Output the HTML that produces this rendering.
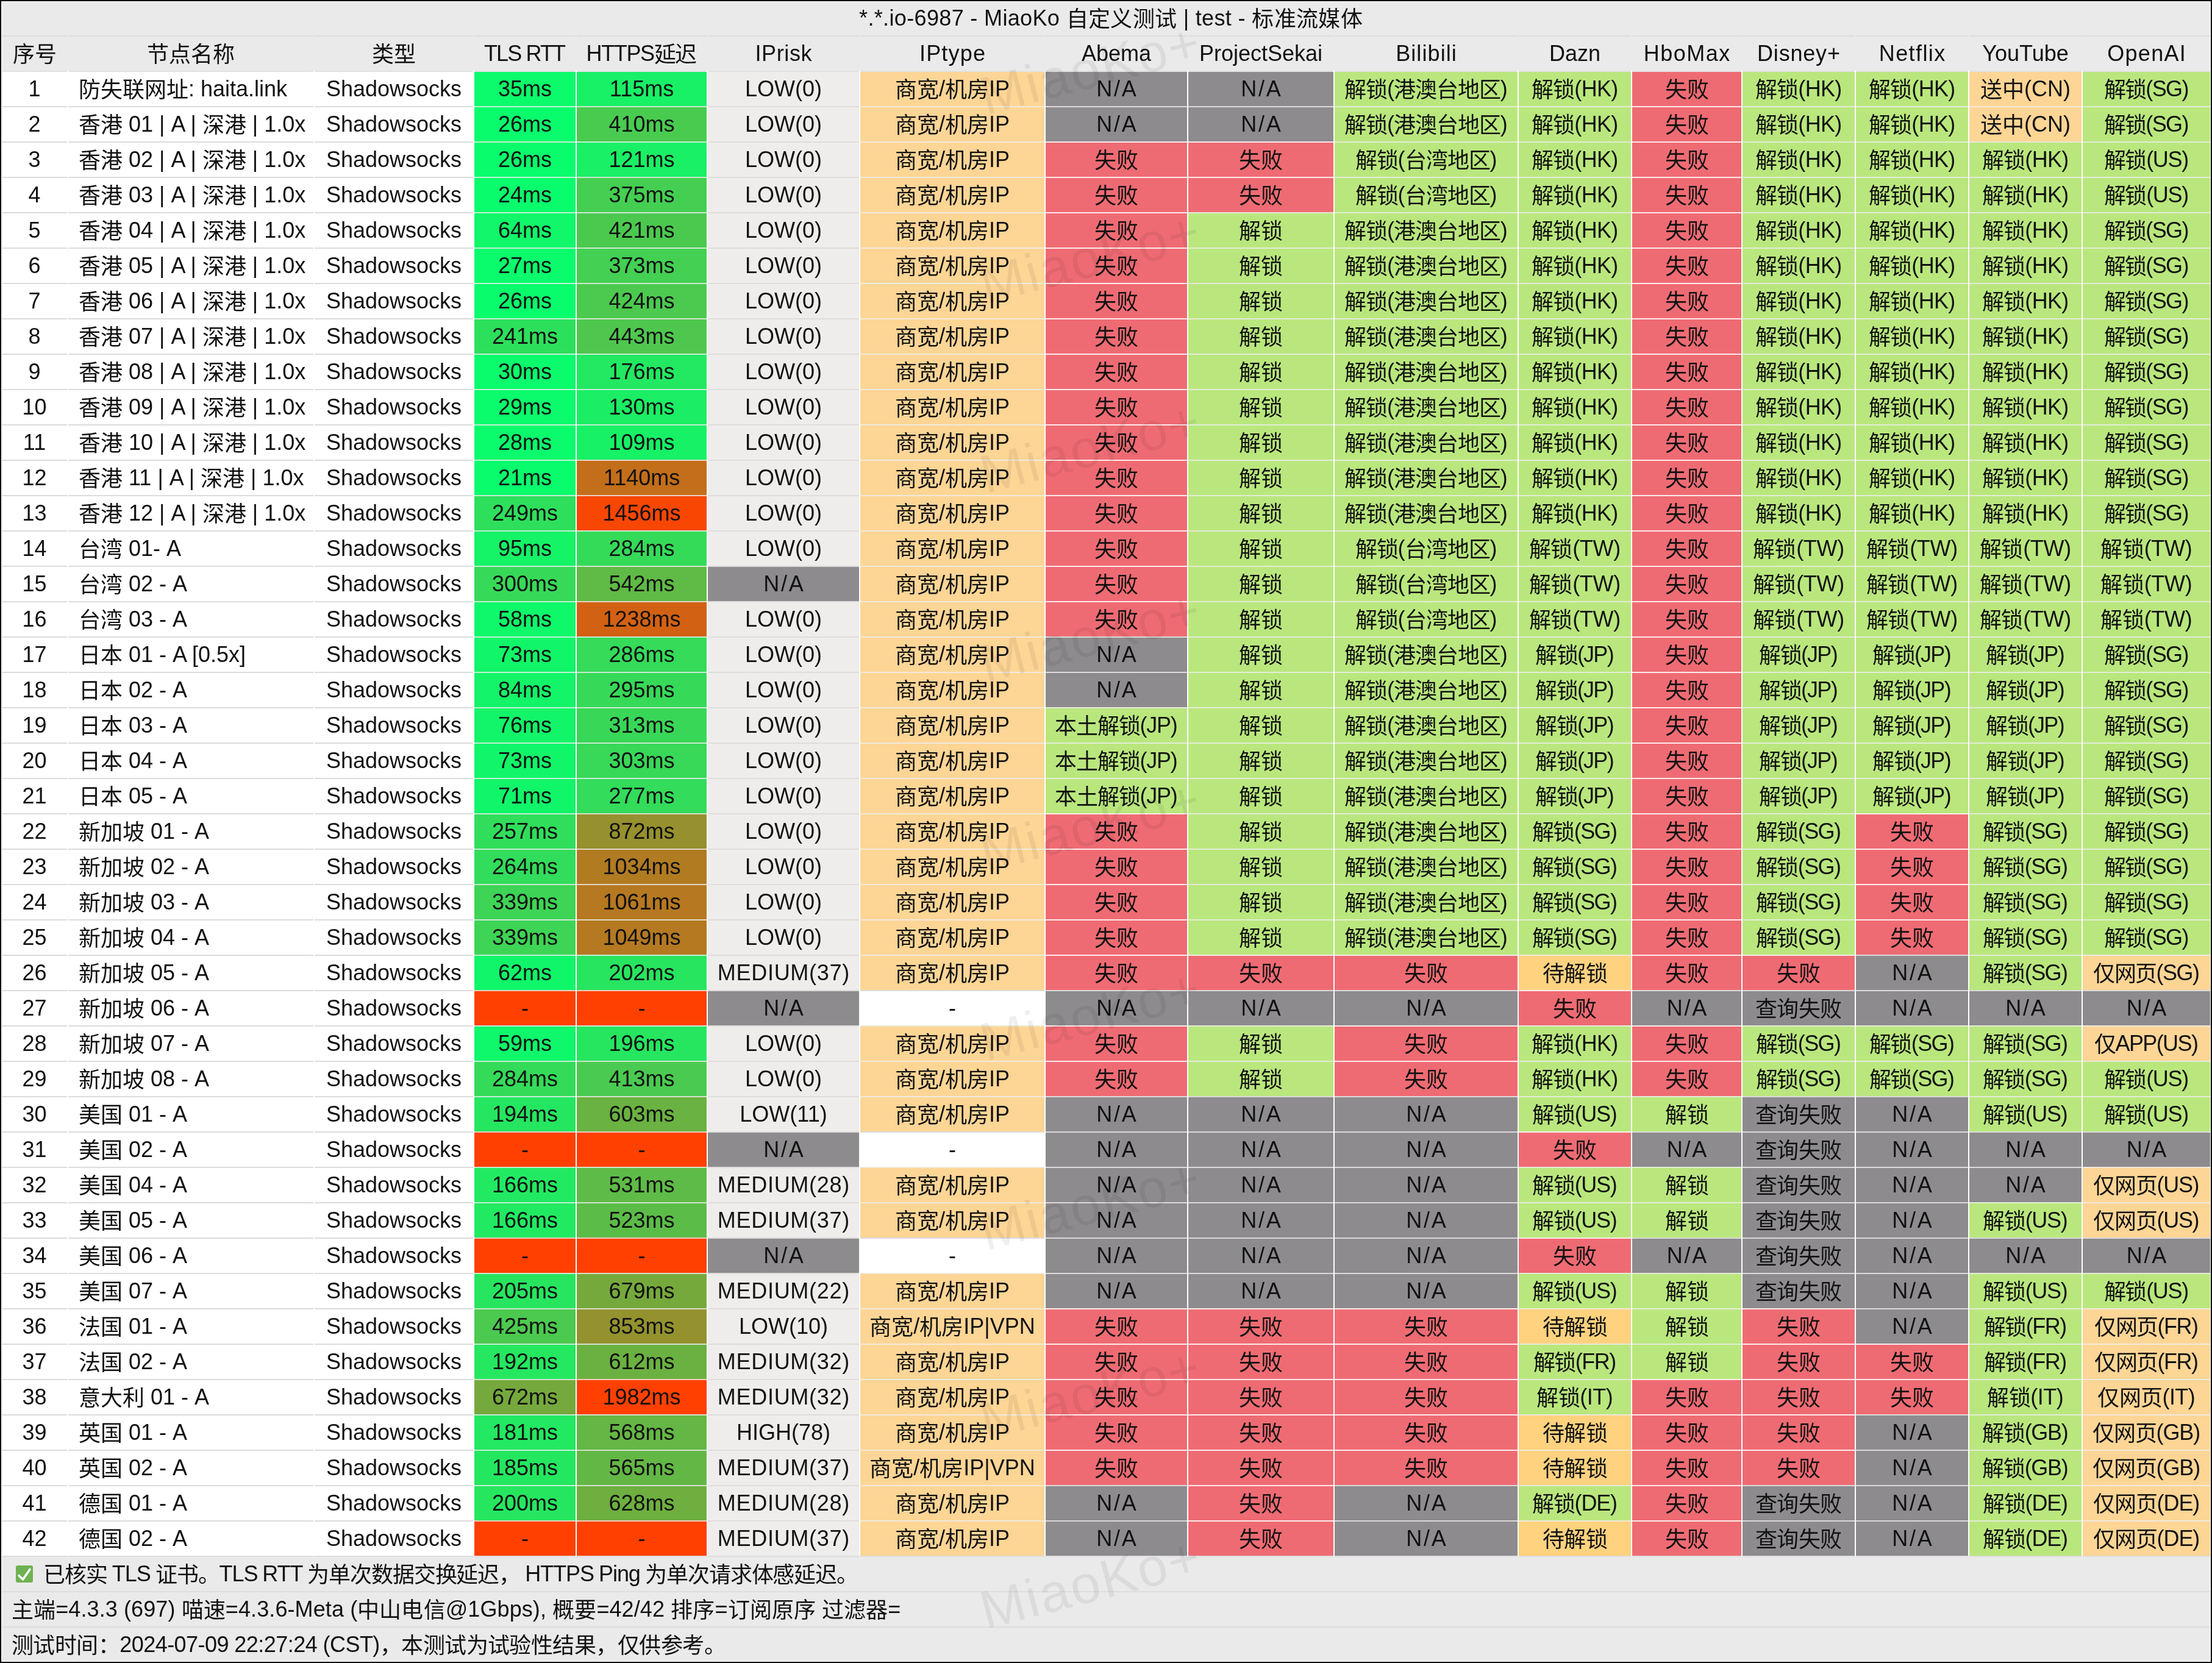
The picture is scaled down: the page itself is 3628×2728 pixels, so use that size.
<!DOCTYPE html>
<html lang="zh-CN"><head><meta charset="utf-8"><title>MiaoKo</title>
<style>
html,body{margin:0;padding:0;background:#eaeaea;}
body{width:3628px;height:2728px;overflow:hidden;position:relative;font-family:"Liberation Sans",sans-serif;font-size:36px;color:#111;}
.r{position:absolute;left:0;width:3628px;height:58px;background:#eaeaea;}
.d{background:#fff;}
.c{position:absolute;top:0;height:58px;box-sizing:border-box;border-top:2px solid #dedede;line-height:56px;text-align:center;white-space:nowrap;overflow:hidden;}
.d .c{border-top-color:#dcdcdc;background:#fff;}
.d .n{text-align:left;padding-left:17px;}
i{font-style:normal;position:relative;top:2px;}
.d .k{border-top-color:rgba(238,238,238,.8);}
.d .rk{background:#eeedec;border-top-color:#dedddc;}
.d .ok{background:#b9e77d;}
.d .no{background:#ef6b73;border-top-color:rgba(255,255,255,.86);}
.d .na{background:#8d8b8e;}
.d .wt{background:#ffd27f;}
.d .or{background:#fdd595;}
.d0 .c{border-top-color:#e2e2e2;}
.t{border-top-color:transparent;left:0;width:3628px;letter-spacing:.35px;padding-left:16px;}
.f{left:0;width:3628px;text-align:left;padding-left:19px;border-top:none;padding-top:2px;}
.wm{position:absolute;left:1622px;width:400px;height:100px;line-height:100px;font-size:88px;letter-spacing:3px;color:rgba(0,0,0,.062);transform:rotate(-14.5deg);transform-origin:0 100%;white-space:nowrap;pointer-events:none;}
#bd{position:absolute;left:0;top:0;width:3628px;height:2728px;box-sizing:border-box;border:2px solid #000;box-shadow:inset 0 0 0 1px #fff;pointer-events:none;}
#cb{position:absolute;left:26px;top:16px;width:28px;height:28px;}
.sg,.ln{position:absolute;top:0;height:2px;background:#dedede;}
.ln{left:3px;width:3622px;}
#w{position:absolute;left:0;top:0;width:3628px;height:2728px;will-change:transform;}
</style></head><body><div id="w">
<div class="r" style="top:0"><div class="c t">*.*.io-6987 - MiaoKo <i>自定义测试</i> | test - <i>标准流媒体</i></div></div>
<div class="r" style="top:58px"><div class="c h" style="left:3px;width:107px;"><i>序号</i></div><div class="c h" style="left:112px;width:402px;"><i>节点名称</i></div><div class="c h" style="left:516px;width:260px;"><i>类型</i></div><div class="c h" style="left:778px;width:166px;letter-spacing:-1.9px;text-indent:-1.9px;">TLS RTT</div><div class="c h" style="left:946px;width:213px;letter-spacing:-1.35px;text-indent:-1.35px;">HTTPS<i>延迟</i></div><div class="c h" style="left:1161px;width:248px;letter-spacing:0.6px;text-indent:0.6px;">IPrisk</div><div class="c h" style="left:1411px;width:302px;letter-spacing:1.2px;text-indent:1.2px;">IPtype</div><div class="c h" style="left:1715px;width:232px;">Abema</div><div class="c h" style="left:1949px;width:238px;">ProjectSekai</div><div class="c h" style="left:2189px;width:300px;letter-spacing:1.1px;text-indent:1.1px;">Bilibili</div><div class="c h" style="left:2491px;width:184px;">Dazn</div><div class="c h" style="left:2677px;width:179px;letter-spacing:1.5px;text-indent:1.5px;">HboMax</div><div class="c h" style="left:2858px;width:184px;letter-spacing:0.8px;text-indent:0.8px;">Disney+</div><div class="c h" style="left:3044px;width:184px;letter-spacing:1.4px;text-indent:1.4px;">Netflix</div><div class="c h" style="left:3230px;width:184px;">YouTube</div><div class="c h" style="left:3416px;width:209px;letter-spacing:1.3px;text-indent:1.3px;">OpenAI</div></div>
<div class="r d d0" style="top:116px"><div class="c " style="left:3px;width:107px;">1</div><div class="c n" style="left:112px;width:402px;"><i>防失联网址</i>: haita.link</div><div class="c " style="left:516px;width:260px;">Shadowsocks</div><div class="c k" style="left:778px;width:166px;background:rgb(11,251,107);">35ms</div><div class="c k" style="left:946px;width:213px;background:rgb(24,240,102);">115ms</div><div class="c rk" style="left:1161px;width:248px;">LOW(0)</div><div class="c k or" style="left:1411px;width:302px;"><i>商宽</i>/<i>机房</i>IP</div><div class="c k na" style="left:1715px;width:232px;letter-spacing:2.8px;text-indent:2.8px;">N/A</div><div class="c k na" style="left:1949px;width:238px;letter-spacing:2.8px;text-indent:2.8px;">N/A</div><div class="c k ok" style="left:2189px;width:300px;letter-spacing:-1.05px;text-indent:-1.05px;"><i>解锁</i>(<i>港澳台地区</i>)</div><div class="c k ok" style="left:2491px;width:184px;letter-spacing:-0.7px;text-indent:-0.7px;"><i>解锁</i>(HK)</div><div class="c k no" style="left:2677px;width:179px;"><i>失败</i></div><div class="c k ok" style="left:2858px;width:184px;letter-spacing:-0.7px;text-indent:-0.7px;"><i>解锁</i>(HK)</div><div class="c k ok" style="left:3044px;width:184px;letter-spacing:-0.7px;text-indent:-0.7px;"><i>解锁</i>(HK)</div><div class="c k or" style="left:3230px;width:184px;"><i>送中</i>(CN)</div><div class="c k ok" style="left:3416px;width:209px;letter-spacing:-1.6px;text-indent:-1.6px;"><i>解锁</i>(SG)</div></div>
<div class="r d" style="top:174px"><div class="c " style="left:3px;width:107px;">2</div><div class="c n" style="left:112px;width:402px;"><i>香港</i> 01 | A | <i>深港</i> | 1.0x</div><div class="c " style="left:516px;width:260px;">Shadowsocks</div><div class="c k" style="left:778px;width:166px;background:rgb(9,252,108);">26ms</div><div class="c k" style="left:946px;width:213px;background:rgb(73,203,80);">410ms</div><div class="c rk" style="left:1161px;width:248px;">LOW(0)</div><div class="c k or" style="left:1411px;width:302px;"><i>商宽</i>/<i>机房</i>IP</div><div class="c k na" style="left:1715px;width:232px;letter-spacing:2.8px;text-indent:2.8px;">N/A</div><div class="c k na" style="left:1949px;width:238px;letter-spacing:2.8px;text-indent:2.8px;">N/A</div><div class="c k ok" style="left:2189px;width:300px;letter-spacing:-1.05px;text-indent:-1.05px;"><i>解锁</i>(<i>港澳台地区</i>)</div><div class="c k ok" style="left:2491px;width:184px;letter-spacing:-0.7px;text-indent:-0.7px;"><i>解锁</i>(HK)</div><div class="c k no" style="left:2677px;width:179px;"><i>失败</i></div><div class="c k ok" style="left:2858px;width:184px;letter-spacing:-0.7px;text-indent:-0.7px;"><i>解锁</i>(HK)</div><div class="c k ok" style="left:3044px;width:184px;letter-spacing:-0.7px;text-indent:-0.7px;"><i>解锁</i>(HK)</div><div class="c k or" style="left:3230px;width:184px;"><i>送中</i>(CN)</div><div class="c k ok" style="left:3416px;width:209px;letter-spacing:-1.6px;text-indent:-1.6px;"><i>解锁</i>(SG)</div></div>
<div class="r d" style="top:232px"><div class="c " style="left:3px;width:107px;">3</div><div class="c n" style="left:112px;width:402px;"><i>香港</i> 02 | A | <i>深港</i> | 1.0x</div><div class="c " style="left:516px;width:260px;">Shadowsocks</div><div class="c k" style="left:778px;width:166px;background:rgb(9,252,108);">26ms</div><div class="c k" style="left:946px;width:213px;background:rgb(25,240,101);">121ms</div><div class="c rk" style="left:1161px;width:248px;">LOW(0)</div><div class="c k or" style="left:1411px;width:302px;"><i>商宽</i>/<i>机房</i>IP</div><div class="c k no" style="left:1715px;width:232px;"><i>失败</i></div><div class="c k no" style="left:1949px;width:238px;"><i>失败</i></div><div class="c k ok" style="left:2189px;width:300px;letter-spacing:-1px;text-indent:-1px;"><i>解锁</i>(<i>台湾地区</i>)</div><div class="c k ok" style="left:2491px;width:184px;letter-spacing:-0.7px;text-indent:-0.7px;"><i>解锁</i>(HK)</div><div class="c k no" style="left:2677px;width:179px;"><i>失败</i></div><div class="c k ok" style="left:2858px;width:184px;letter-spacing:-0.7px;text-indent:-0.7px;"><i>解锁</i>(HK)</div><div class="c k ok" style="left:3044px;width:184px;letter-spacing:-0.7px;text-indent:-0.7px;"><i>解锁</i>(HK)</div><div class="c k ok" style="left:3230px;width:184px;letter-spacing:-0.7px;text-indent:-0.7px;"><i>解锁</i>(HK)</div><div class="c k ok" style="left:3416px;width:209px;letter-spacing:-1.3px;text-indent:-1.3px;"><i>解锁</i>(US)</div></div>
<div class="r d" style="top:290px"><div class="c " style="left:3px;width:107px;">4</div><div class="c n" style="left:112px;width:402px;"><i>香港</i> 03 | A | <i>深港</i> | 1.0x</div><div class="c " style="left:516px;width:260px;">Shadowsocks</div><div class="c k" style="left:778px;width:166px;background:rgb(9,252,108);">24ms</div><div class="c k" style="left:946px;width:213px;background:rgb(68,207,82);">375ms</div><div class="c rk" style="left:1161px;width:248px;">LOW(0)</div><div class="c k or" style="left:1411px;width:302px;"><i>商宽</i>/<i>机房</i>IP</div><div class="c k no" style="left:1715px;width:232px;"><i>失败</i></div><div class="c k no" style="left:1949px;width:238px;"><i>失败</i></div><div class="c k ok" style="left:2189px;width:300px;letter-spacing:-1px;text-indent:-1px;"><i>解锁</i>(<i>台湾地区</i>)</div><div class="c k ok" style="left:2491px;width:184px;letter-spacing:-0.7px;text-indent:-0.7px;"><i>解锁</i>(HK)</div><div class="c k no" style="left:2677px;width:179px;"><i>失败</i></div><div class="c k ok" style="left:2858px;width:184px;letter-spacing:-0.7px;text-indent:-0.7px;"><i>解锁</i>(HK)</div><div class="c k ok" style="left:3044px;width:184px;letter-spacing:-0.7px;text-indent:-0.7px;"><i>解锁</i>(HK)</div><div class="c k ok" style="left:3230px;width:184px;letter-spacing:-0.7px;text-indent:-0.7px;"><i>解锁</i>(HK)</div><div class="c k ok" style="left:3416px;width:209px;letter-spacing:-1.3px;text-indent:-1.3px;"><i>解锁</i>(US)</div></div>
<div class="r d" style="top:348px"><div class="c " style="left:3px;width:107px;">5</div><div class="c n" style="left:112px;width:402px;"><i>香港</i> 04 | A | <i>深港</i> | 1.0x</div><div class="c " style="left:516px;width:260px;">Shadowsocks</div><div class="c k" style="left:778px;width:166px;background:rgb(16,247,105);">64ms</div><div class="c k" style="left:946px;width:213px;background:rgb(75,201,79);">421ms</div><div class="c rk" style="left:1161px;width:248px;">LOW(0)</div><div class="c k or" style="left:1411px;width:302px;"><i>商宽</i>/<i>机房</i>IP</div><div class="c k no" style="left:1715px;width:232px;"><i>失败</i></div><div class="c k ok" style="left:1949px;width:238px;"><i>解锁</i></div><div class="c k ok" style="left:2189px;width:300px;letter-spacing:-1.05px;text-indent:-1.05px;"><i>解锁</i>(<i>港澳台地区</i>)</div><div class="c k ok" style="left:2491px;width:184px;letter-spacing:-0.7px;text-indent:-0.7px;"><i>解锁</i>(HK)</div><div class="c k no" style="left:2677px;width:179px;"><i>失败</i></div><div class="c k ok" style="left:2858px;width:184px;letter-spacing:-0.7px;text-indent:-0.7px;"><i>解锁</i>(HK)</div><div class="c k ok" style="left:3044px;width:184px;letter-spacing:-0.7px;text-indent:-0.7px;"><i>解锁</i>(HK)</div><div class="c k ok" style="left:3230px;width:184px;letter-spacing:-0.7px;text-indent:-0.7px;"><i>解锁</i>(HK)</div><div class="c k ok" style="left:3416px;width:209px;letter-spacing:-1.6px;text-indent:-1.6px;"><i>解锁</i>(SG)</div></div>
<div class="r d" style="top:406px"><div class="c " style="left:3px;width:107px;">6</div><div class="c n" style="left:112px;width:402px;"><i>香港</i> 05 | A | <i>深港</i> | 1.0x</div><div class="c " style="left:516px;width:260px;">Shadowsocks</div><div class="c k" style="left:778px;width:166px;background:rgb(10,252,108);">27ms</div><div class="c k" style="left:946px;width:213px;background:rgb(67,208,83);">373ms</div><div class="c rk" style="left:1161px;width:248px;">LOW(0)</div><div class="c k or" style="left:1411px;width:302px;"><i>商宽</i>/<i>机房</i>IP</div><div class="c k no" style="left:1715px;width:232px;"><i>失败</i></div><div class="c k ok" style="left:1949px;width:238px;"><i>解锁</i></div><div class="c k ok" style="left:2189px;width:300px;letter-spacing:-1.05px;text-indent:-1.05px;"><i>解锁</i>(<i>港澳台地区</i>)</div><div class="c k ok" style="left:2491px;width:184px;letter-spacing:-0.7px;text-indent:-0.7px;"><i>解锁</i>(HK)</div><div class="c k no" style="left:2677px;width:179px;"><i>失败</i></div><div class="c k ok" style="left:2858px;width:184px;letter-spacing:-0.7px;text-indent:-0.7px;"><i>解锁</i>(HK)</div><div class="c k ok" style="left:3044px;width:184px;letter-spacing:-0.7px;text-indent:-0.7px;"><i>解锁</i>(HK)</div><div class="c k ok" style="left:3230px;width:184px;letter-spacing:-0.7px;text-indent:-0.7px;"><i>解锁</i>(HK)</div><div class="c k ok" style="left:3416px;width:209px;letter-spacing:-1.6px;text-indent:-1.6px;"><i>解锁</i>(SG)</div></div>
<div class="r d" style="top:464px"><div class="c " style="left:3px;width:107px;">7</div><div class="c n" style="left:112px;width:402px;"><i>香港</i> 06 | A | <i>深港</i> | 1.0x</div><div class="c " style="left:516px;width:260px;">Shadowsocks</div><div class="c k" style="left:778px;width:166px;background:rgb(9,252,108);">26ms</div><div class="c k" style="left:946px;width:213px;background:rgb(76,201,79);">424ms</div><div class="c rk" style="left:1161px;width:248px;">LOW(0)</div><div class="c k or" style="left:1411px;width:302px;"><i>商宽</i>/<i>机房</i>IP</div><div class="c k no" style="left:1715px;width:232px;"><i>失败</i></div><div class="c k ok" style="left:1949px;width:238px;"><i>解锁</i></div><div class="c k ok" style="left:2189px;width:300px;letter-spacing:-1.05px;text-indent:-1.05px;"><i>解锁</i>(<i>港澳台地区</i>)</div><div class="c k ok" style="left:2491px;width:184px;letter-spacing:-0.7px;text-indent:-0.7px;"><i>解锁</i>(HK)</div><div class="c k no" style="left:2677px;width:179px;"><i>失败</i></div><div class="c k ok" style="left:2858px;width:184px;letter-spacing:-0.7px;text-indent:-0.7px;"><i>解锁</i>(HK)</div><div class="c k ok" style="left:3044px;width:184px;letter-spacing:-0.7px;text-indent:-0.7px;"><i>解锁</i>(HK)</div><div class="c k ok" style="left:3230px;width:184px;letter-spacing:-0.7px;text-indent:-0.7px;"><i>解锁</i>(HK)</div><div class="c k ok" style="left:3416px;width:209px;letter-spacing:-1.6px;text-indent:-1.6px;"><i>解锁</i>(SG)</div></div>
<div class="r d" style="top:522px"><div class="c " style="left:3px;width:107px;">8</div><div class="c n" style="left:112px;width:402px;"><i>香港</i> 07 | A | <i>深港</i> | 1.0x</div><div class="c " style="left:516px;width:260px;">Shadowsocks</div><div class="c k" style="left:778px;width:166px;background:rgb(45,224,92);">241ms</div><div class="c k" style="left:946px;width:213px;background:rgb(79,199,78);">443ms</div><div class="c rk" style="left:1161px;width:248px;">LOW(0)</div><div class="c k or" style="left:1411px;width:302px;"><i>商宽</i>/<i>机房</i>IP</div><div class="c k no" style="left:1715px;width:232px;"><i>失败</i></div><div class="c k ok" style="left:1949px;width:238px;"><i>解锁</i></div><div class="c k ok" style="left:2189px;width:300px;letter-spacing:-1.05px;text-indent:-1.05px;"><i>解锁</i>(<i>港澳台地区</i>)</div><div class="c k ok" style="left:2491px;width:184px;letter-spacing:-0.7px;text-indent:-0.7px;"><i>解锁</i>(HK)</div><div class="c k no" style="left:2677px;width:179px;"><i>失败</i></div><div class="c k ok" style="left:2858px;width:184px;letter-spacing:-0.7px;text-indent:-0.7px;"><i>解锁</i>(HK)</div><div class="c k ok" style="left:3044px;width:184px;letter-spacing:-0.7px;text-indent:-0.7px;"><i>解锁</i>(HK)</div><div class="c k ok" style="left:3230px;width:184px;letter-spacing:-0.7px;text-indent:-0.7px;"><i>解锁</i>(HK)</div><div class="c k ok" style="left:3416px;width:209px;letter-spacing:-1.6px;text-indent:-1.6px;"><i>解锁</i>(SG)</div></div>
<div class="r d" style="top:580px"><div class="c " style="left:3px;width:107px;">9</div><div class="c n" style="left:112px;width:402px;"><i>香港</i> 08 | A | <i>深港</i> | 1.0x</div><div class="c " style="left:516px;width:260px;">Shadowsocks</div><div class="c k" style="left:778px;width:166px;background:rgb(10,251,108);">30ms</div><div class="c k" style="left:946px;width:213px;background:rgb(34,233,97);">176ms</div><div class="c rk" style="left:1161px;width:248px;">LOW(0)</div><div class="c k or" style="left:1411px;width:302px;"><i>商宽</i>/<i>机房</i>IP</div><div class="c k no" style="left:1715px;width:232px;"><i>失败</i></div><div class="c k ok" style="left:1949px;width:238px;"><i>解锁</i></div><div class="c k ok" style="left:2189px;width:300px;letter-spacing:-1.05px;text-indent:-1.05px;"><i>解锁</i>(<i>港澳台地区</i>)</div><div class="c k ok" style="left:2491px;width:184px;letter-spacing:-0.7px;text-indent:-0.7px;"><i>解锁</i>(HK)</div><div class="c k no" style="left:2677px;width:179px;"><i>失败</i></div><div class="c k ok" style="left:2858px;width:184px;letter-spacing:-0.7px;text-indent:-0.7px;"><i>解锁</i>(HK)</div><div class="c k ok" style="left:3044px;width:184px;letter-spacing:-0.7px;text-indent:-0.7px;"><i>解锁</i>(HK)</div><div class="c k ok" style="left:3230px;width:184px;letter-spacing:-0.7px;text-indent:-0.7px;"><i>解锁</i>(HK)</div><div class="c k ok" style="left:3416px;width:209px;letter-spacing:-1.6px;text-indent:-1.6px;"><i>解锁</i>(SG)</div></div>
<div class="r d" style="top:638px"><div class="c " style="left:3px;width:107px;">10</div><div class="c n" style="left:112px;width:402px;"><i>香港</i> 09 | A | <i>深港</i> | 1.0x</div><div class="c " style="left:516px;width:260px;">Shadowsocks</div><div class="c k" style="left:778px;width:166px;background:rgb(10,251,108);">29ms</div><div class="c k" style="left:946px;width:213px;background:rgb(27,238,100);">130ms</div><div class="c rk" style="left:1161px;width:248px;">LOW(0)</div><div class="c k or" style="left:1411px;width:302px;"><i>商宽</i>/<i>机房</i>IP</div><div class="c k no" style="left:1715px;width:232px;"><i>失败</i></div><div class="c k ok" style="left:1949px;width:238px;"><i>解锁</i></div><div class="c k ok" style="left:2189px;width:300px;letter-spacing:-1.05px;text-indent:-1.05px;"><i>解锁</i>(<i>港澳台地区</i>)</div><div class="c k ok" style="left:2491px;width:184px;letter-spacing:-0.7px;text-indent:-0.7px;"><i>解锁</i>(HK)</div><div class="c k no" style="left:2677px;width:179px;"><i>失败</i></div><div class="c k ok" style="left:2858px;width:184px;letter-spacing:-0.7px;text-indent:-0.7px;"><i>解锁</i>(HK)</div><div class="c k ok" style="left:3044px;width:184px;letter-spacing:-0.7px;text-indent:-0.7px;"><i>解锁</i>(HK)</div><div class="c k ok" style="left:3230px;width:184px;letter-spacing:-0.7px;text-indent:-0.7px;"><i>解锁</i>(HK)</div><div class="c k ok" style="left:3416px;width:209px;letter-spacing:-1.6px;text-indent:-1.6px;"><i>解锁</i>(SG)</div></div>
<div class="r d" style="top:696px"><div class="c " style="left:3px;width:107px;">11</div><div class="c n" style="left:112px;width:402px;"><i>香港</i> 10 | A | <i>深港</i> | 1.0x</div><div class="c " style="left:516px;width:260px;">Shadowsocks</div><div class="c k" style="left:778px;width:166px;background:rgb(10,251,108);">28ms</div><div class="c k" style="left:946px;width:213px;background:rgb(23,241,102);">109ms</div><div class="c rk" style="left:1161px;width:248px;">LOW(0)</div><div class="c k or" style="left:1411px;width:302px;"><i>商宽</i>/<i>机房</i>IP</div><div class="c k no" style="left:1715px;width:232px;"><i>失败</i></div><div class="c k ok" style="left:1949px;width:238px;"><i>解锁</i></div><div class="c k ok" style="left:2189px;width:300px;letter-spacing:-1.05px;text-indent:-1.05px;"><i>解锁</i>(<i>港澳台地区</i>)</div><div class="c k ok" style="left:2491px;width:184px;letter-spacing:-0.7px;text-indent:-0.7px;"><i>解锁</i>(HK)</div><div class="c k no" style="left:2677px;width:179px;"><i>失败</i></div><div class="c k ok" style="left:2858px;width:184px;letter-spacing:-0.7px;text-indent:-0.7px;"><i>解锁</i>(HK)</div><div class="c k ok" style="left:3044px;width:184px;letter-spacing:-0.7px;text-indent:-0.7px;"><i>解锁</i>(HK)</div><div class="c k ok" style="left:3230px;width:184px;letter-spacing:-0.7px;text-indent:-0.7px;"><i>解锁</i>(HK)</div><div class="c k ok" style="left:3416px;width:209px;letter-spacing:-1.6px;text-indent:-1.6px;"><i>解锁</i>(SG)</div></div>
<div class="r d" style="top:754px"><div class="c " style="left:3px;width:107px;">12</div><div class="c n" style="left:112px;width:402px;"><i>香港</i> 11 | A | <i>深港</i> | 1.0x</div><div class="c " style="left:516px;width:260px;">Shadowsocks</div><div class="c k" style="left:778px;width:166px;background:rgb(8,252,108);">21ms</div><div class="c k" style="left:946px;width:213px;background:rgb(195,110,26);">1140ms</div><div class="c rk" style="left:1161px;width:248px;">LOW(0)</div><div class="c k or" style="left:1411px;width:302px;"><i>商宽</i>/<i>机房</i>IP</div><div class="c k no" style="left:1715px;width:232px;"><i>失败</i></div><div class="c k ok" style="left:1949px;width:238px;"><i>解锁</i></div><div class="c k ok" style="left:2189px;width:300px;letter-spacing:-1.05px;text-indent:-1.05px;"><i>解锁</i>(<i>港澳台地区</i>)</div><div class="c k ok" style="left:2491px;width:184px;letter-spacing:-0.7px;text-indent:-0.7px;"><i>解锁</i>(HK)</div><div class="c k no" style="left:2677px;width:179px;"><i>失败</i></div><div class="c k ok" style="left:2858px;width:184px;letter-spacing:-0.7px;text-indent:-0.7px;"><i>解锁</i>(HK)</div><div class="c k ok" style="left:3044px;width:184px;letter-spacing:-0.7px;text-indent:-0.7px;"><i>解锁</i>(HK)</div><div class="c k ok" style="left:3230px;width:184px;letter-spacing:-0.7px;text-indent:-0.7px;"><i>解锁</i>(HK)</div><div class="c k ok" style="left:3416px;width:209px;letter-spacing:-1.6px;text-indent:-1.6px;"><i>解锁</i>(SG)</div></div>
<div class="r d" style="top:812px"><div class="c " style="left:3px;width:107px;">13</div><div class="c n" style="left:112px;width:402px;"><i>香港</i> 12 | A | <i>深港</i> | 1.0x</div><div class="c " style="left:516px;width:260px;">Shadowsocks</div><div class="c k" style="left:778px;width:166px;background:rgb(46,223,92);">249ms</div><div class="c k" style="left:946px;width:213px;background:rgb(248,70,3);">1456ms</div><div class="c rk" style="left:1161px;width:248px;">LOW(0)</div><div class="c k or" style="left:1411px;width:302px;"><i>商宽</i>/<i>机房</i>IP</div><div class="c k no" style="left:1715px;width:232px;"><i>失败</i></div><div class="c k ok" style="left:1949px;width:238px;"><i>解锁</i></div><div class="c k ok" style="left:2189px;width:300px;letter-spacing:-1.05px;text-indent:-1.05px;"><i>解锁</i>(<i>港澳台地区</i>)</div><div class="c k ok" style="left:2491px;width:184px;letter-spacing:-0.7px;text-indent:-0.7px;"><i>解锁</i>(HK)</div><div class="c k no" style="left:2677px;width:179px;"><i>失败</i></div><div class="c k ok" style="left:2858px;width:184px;letter-spacing:-0.7px;text-indent:-0.7px;"><i>解锁</i>(HK)</div><div class="c k ok" style="left:3044px;width:184px;letter-spacing:-0.7px;text-indent:-0.7px;"><i>解锁</i>(HK)</div><div class="c k ok" style="left:3230px;width:184px;letter-spacing:-0.7px;text-indent:-0.7px;"><i>解锁</i>(HK)</div><div class="c k ok" style="left:3416px;width:209px;letter-spacing:-1.6px;text-indent:-1.6px;"><i>解锁</i>(SG)</div></div>
<div class="r d" style="top:870px"><div class="c " style="left:3px;width:107px;">14</div><div class="c n" style="left:112px;width:402px;"><i>台湾</i> 01- A</div><div class="c " style="left:516px;width:260px;">Shadowsocks</div><div class="c k" style="left:778px;width:166px;background:rgb(21,243,103);">95ms</div><div class="c k" style="left:946px;width:213px;background:rgb(52,219,89);">284ms</div><div class="c rk" style="left:1161px;width:248px;">LOW(0)</div><div class="c k or" style="left:1411px;width:302px;"><i>商宽</i>/<i>机房</i>IP</div><div class="c k no" style="left:1715px;width:232px;"><i>失败</i></div><div class="c k ok" style="left:1949px;width:238px;"><i>解锁</i></div><div class="c k ok" style="left:2189px;width:300px;letter-spacing:-1px;text-indent:-1px;"><i>解锁</i>(<i>台湾地区</i>)</div><div class="c k ok" style="left:2491px;width:184px;letter-spacing:-0.3px;text-indent:-0.3px;"><i>解锁</i>(TW)</div><div class="c k no" style="left:2677px;width:179px;"><i>失败</i></div><div class="c k ok" style="left:2858px;width:184px;letter-spacing:-0.3px;text-indent:-0.3px;"><i>解锁</i>(TW)</div><div class="c k ok" style="left:3044px;width:184px;letter-spacing:-0.3px;text-indent:-0.3px;"><i>解锁</i>(TW)</div><div class="c k ok" style="left:3230px;width:184px;letter-spacing:-0.3px;text-indent:-0.3px;"><i>解锁</i>(TW)</div><div class="c k ok" style="left:3416px;width:209px;letter-spacing:-0.3px;text-indent:-0.3px;"><i>解锁</i>(TW)</div></div>
<div class="r d" style="top:928px"><div class="c " style="left:3px;width:107px;">15</div><div class="c n" style="left:112px;width:402px;"><i>台湾</i> 02 - A</div><div class="c " style="left:516px;width:260px;">Shadowsocks</div><div class="c k" style="left:778px;width:166px;background:rgb(55,217,88);">300ms</div><div class="c k" style="left:946px;width:213px;background:rgb(95,186,70);">542ms</div><div class="c k na" style="left:1161px;width:248px;letter-spacing:2.8px;text-indent:2.8px;">N/A</div><div class="c k or" style="left:1411px;width:302px;"><i>商宽</i>/<i>机房</i>IP</div><div class="c k no" style="left:1715px;width:232px;"><i>失败</i></div><div class="c k ok" style="left:1949px;width:238px;"><i>解锁</i></div><div class="c k ok" style="left:2189px;width:300px;letter-spacing:-1px;text-indent:-1px;"><i>解锁</i>(<i>台湾地区</i>)</div><div class="c k ok" style="left:2491px;width:184px;letter-spacing:-0.3px;text-indent:-0.3px;"><i>解锁</i>(TW)</div><div class="c k no" style="left:2677px;width:179px;"><i>失败</i></div><div class="c k ok" style="left:2858px;width:184px;letter-spacing:-0.3px;text-indent:-0.3px;"><i>解锁</i>(TW)</div><div class="c k ok" style="left:3044px;width:184px;letter-spacing:-0.3px;text-indent:-0.3px;"><i>解锁</i>(TW)</div><div class="c k ok" style="left:3230px;width:184px;letter-spacing:-0.3px;text-indent:-0.3px;"><i>解锁</i>(TW)</div><div class="c k ok" style="left:3416px;width:209px;letter-spacing:-0.3px;text-indent:-0.3px;"><i>解锁</i>(TW)</div></div>
<div class="r d" style="top:986px"><div class="c " style="left:3px;width:107px;">16</div><div class="c n" style="left:112px;width:402px;"><i>台湾</i> 03 - A</div><div class="c " style="left:516px;width:260px;">Shadowsocks</div><div class="c k" style="left:778px;width:166px;background:rgb(15,248,106);">58ms</div><div class="c k" style="left:946px;width:213px;background:rgb(211,97,19);">1238ms</div><div class="c rk" style="left:1161px;width:248px;">LOW(0)</div><div class="c k or" style="left:1411px;width:302px;"><i>商宽</i>/<i>机房</i>IP</div><div class="c k no" style="left:1715px;width:232px;"><i>失败</i></div><div class="c k ok" style="left:1949px;width:238px;"><i>解锁</i></div><div class="c k ok" style="left:2189px;width:300px;letter-spacing:-1px;text-indent:-1px;"><i>解锁</i>(<i>台湾地区</i>)</div><div class="c k ok" style="left:2491px;width:184px;letter-spacing:-0.3px;text-indent:-0.3px;"><i>解锁</i>(TW)</div><div class="c k no" style="left:2677px;width:179px;"><i>失败</i></div><div class="c k ok" style="left:2858px;width:184px;letter-spacing:-0.3px;text-indent:-0.3px;"><i>解锁</i>(TW)</div><div class="c k ok" style="left:3044px;width:184px;letter-spacing:-0.3px;text-indent:-0.3px;"><i>解锁</i>(TW)</div><div class="c k ok" style="left:3230px;width:184px;letter-spacing:-0.3px;text-indent:-0.3px;"><i>解锁</i>(TW)</div><div class="c k ok" style="left:3416px;width:209px;letter-spacing:-0.3px;text-indent:-0.3px;"><i>解锁</i>(TW)</div></div>
<div class="r d" style="top:1044px"><div class="c " style="left:3px;width:107px;">17</div><div class="c n" style="left:112px;width:402px;"><i>日本</i> 01 - A [0.5x]</div><div class="c " style="left:516px;width:260px;">Shadowsocks</div><div class="c k" style="left:778px;width:166px;background:rgb(17,246,105);">73ms</div><div class="c k" style="left:946px;width:213px;background:rgb(53,219,89);">286ms</div><div class="c rk" style="left:1161px;width:248px;">LOW(0)</div><div class="c k or" style="left:1411px;width:302px;"><i>商宽</i>/<i>机房</i>IP</div><div class="c k na" style="left:1715px;width:232px;letter-spacing:2.8px;text-indent:2.8px;">N/A</div><div class="c k ok" style="left:1949px;width:238px;"><i>解锁</i></div><div class="c k ok" style="left:2189px;width:300px;letter-spacing:-1.05px;text-indent:-1.05px;"><i>解锁</i>(<i>港澳台地区</i>)</div><div class="c k ok" style="left:2491px;width:184px;letter-spacing:-1.75px;text-indent:-1.75px;"><i>解锁</i>(JP)</div><div class="c k no" style="left:2677px;width:179px;"><i>失败</i></div><div class="c k ok" style="left:2858px;width:184px;letter-spacing:-1.75px;text-indent:-1.75px;"><i>解锁</i>(JP)</div><div class="c k ok" style="left:3044px;width:184px;letter-spacing:-1.75px;text-indent:-1.75px;"><i>解锁</i>(JP)</div><div class="c k ok" style="left:3230px;width:184px;letter-spacing:-1.75px;text-indent:-1.75px;"><i>解锁</i>(JP)</div><div class="c k ok" style="left:3416px;width:209px;letter-spacing:-1.6px;text-indent:-1.6px;"><i>解锁</i>(SG)</div></div>
<div class="r d" style="top:1102px"><div class="c " style="left:3px;width:107px;">18</div><div class="c n" style="left:112px;width:402px;"><i>日本</i> 02 - A</div><div class="c " style="left:516px;width:260px;">Shadowsocks</div><div class="c k" style="left:778px;width:166px;background:rgb(19,244,104);">84ms</div><div class="c k" style="left:946px;width:213px;background:rgb(54,217,88);">295ms</div><div class="c rk" style="left:1161px;width:248px;">LOW(0)</div><div class="c k or" style="left:1411px;width:302px;"><i>商宽</i>/<i>机房</i>IP</div><div class="c k na" style="left:1715px;width:232px;letter-spacing:2.8px;text-indent:2.8px;">N/A</div><div class="c k ok" style="left:1949px;width:238px;"><i>解锁</i></div><div class="c k ok" style="left:2189px;width:300px;letter-spacing:-1.05px;text-indent:-1.05px;"><i>解锁</i>(<i>港澳台地区</i>)</div><div class="c k ok" style="left:2491px;width:184px;letter-spacing:-1.75px;text-indent:-1.75px;"><i>解锁</i>(JP)</div><div class="c k no" style="left:2677px;width:179px;"><i>失败</i></div><div class="c k ok" style="left:2858px;width:184px;letter-spacing:-1.75px;text-indent:-1.75px;"><i>解锁</i>(JP)</div><div class="c k ok" style="left:3044px;width:184px;letter-spacing:-1.75px;text-indent:-1.75px;"><i>解锁</i>(JP)</div><div class="c k ok" style="left:3230px;width:184px;letter-spacing:-1.75px;text-indent:-1.75px;"><i>解锁</i>(JP)</div><div class="c k ok" style="left:3416px;width:209px;letter-spacing:-1.6px;text-indent:-1.6px;"><i>解锁</i>(SG)</div></div>
<div class="r d" style="top:1160px"><div class="c " style="left:3px;width:107px;">19</div><div class="c n" style="left:112px;width:402px;"><i>日本</i> 03 - A</div><div class="c " style="left:516px;width:260px;">Shadowsocks</div><div class="c k" style="left:778px;width:166px;background:rgb(18,245,104);">76ms</div><div class="c k" style="left:946px;width:213px;background:rgb(57,215,87);">313ms</div><div class="c rk" style="left:1161px;width:248px;">LOW(0)</div><div class="c k or" style="left:1411px;width:302px;"><i>商宽</i>/<i>机房</i>IP</div><div class="c k ok" style="left:1715px;width:232px;letter-spacing:-1.2px;text-indent:-1.2px;"><i>本土解锁</i>(JP)</div><div class="c k ok" style="left:1949px;width:238px;"><i>解锁</i></div><div class="c k ok" style="left:2189px;width:300px;letter-spacing:-1.05px;text-indent:-1.05px;"><i>解锁</i>(<i>港澳台地区</i>)</div><div class="c k ok" style="left:2491px;width:184px;letter-spacing:-1.75px;text-indent:-1.75px;"><i>解锁</i>(JP)</div><div class="c k no" style="left:2677px;width:179px;"><i>失败</i></div><div class="c k ok" style="left:2858px;width:184px;letter-spacing:-1.75px;text-indent:-1.75px;"><i>解锁</i>(JP)</div><div class="c k ok" style="left:3044px;width:184px;letter-spacing:-1.75px;text-indent:-1.75px;"><i>解锁</i>(JP)</div><div class="c k ok" style="left:3230px;width:184px;letter-spacing:-1.75px;text-indent:-1.75px;"><i>解锁</i>(JP)</div><div class="c k ok" style="left:3416px;width:209px;letter-spacing:-1.6px;text-indent:-1.6px;"><i>解锁</i>(SG)</div></div>
<div class="r d" style="top:1218px"><div class="c " style="left:3px;width:107px;">20</div><div class="c n" style="left:112px;width:402px;"><i>日本</i> 04 - A</div><div class="c " style="left:516px;width:260px;">Shadowsocks</div><div class="c k" style="left:778px;width:166px;background:rgb(17,246,105);">73ms</div><div class="c k" style="left:946px;width:213px;background:rgb(56,216,88);">303ms</div><div class="c rk" style="left:1161px;width:248px;">LOW(0)</div><div class="c k or" style="left:1411px;width:302px;"><i>商宽</i>/<i>机房</i>IP</div><div class="c k ok" style="left:1715px;width:232px;letter-spacing:-1.2px;text-indent:-1.2px;"><i>本土解锁</i>(JP)</div><div class="c k ok" style="left:1949px;width:238px;"><i>解锁</i></div><div class="c k ok" style="left:2189px;width:300px;letter-spacing:-1.05px;text-indent:-1.05px;"><i>解锁</i>(<i>港澳台地区</i>)</div><div class="c k ok" style="left:2491px;width:184px;letter-spacing:-1.75px;text-indent:-1.75px;"><i>解锁</i>(JP)</div><div class="c k no" style="left:2677px;width:179px;"><i>失败</i></div><div class="c k ok" style="left:2858px;width:184px;letter-spacing:-1.75px;text-indent:-1.75px;"><i>解锁</i>(JP)</div><div class="c k ok" style="left:3044px;width:184px;letter-spacing:-1.75px;text-indent:-1.75px;"><i>解锁</i>(JP)</div><div class="c k ok" style="left:3230px;width:184px;letter-spacing:-1.75px;text-indent:-1.75px;"><i>解锁</i>(JP)</div><div class="c k ok" style="left:3416px;width:209px;letter-spacing:-1.6px;text-indent:-1.6px;"><i>解锁</i>(SG)</div></div>
<div class="r d" style="top:1276px"><div class="c " style="left:3px;width:107px;">21</div><div class="c n" style="left:112px;width:402px;"><i>日本</i> 05 - A</div><div class="c " style="left:516px;width:260px;">Shadowsocks</div><div class="c k" style="left:778px;width:166px;background:rgb(17,246,105);">71ms</div><div class="c k" style="left:946px;width:213px;background:rgb(51,220,90);">277ms</div><div class="c rk" style="left:1161px;width:248px;">LOW(0)</div><div class="c k or" style="left:1411px;width:302px;"><i>商宽</i>/<i>机房</i>IP</div><div class="c k ok" style="left:1715px;width:232px;letter-spacing:-1.2px;text-indent:-1.2px;"><i>本土解锁</i>(JP)</div><div class="c k ok" style="left:1949px;width:238px;"><i>解锁</i></div><div class="c k ok" style="left:2189px;width:300px;letter-spacing:-1.05px;text-indent:-1.05px;"><i>解锁</i>(<i>港澳台地区</i>)</div><div class="c k ok" style="left:2491px;width:184px;letter-spacing:-1.75px;text-indent:-1.75px;"><i>解锁</i>(JP)</div><div class="c k no" style="left:2677px;width:179px;"><i>失败</i></div><div class="c k ok" style="left:2858px;width:184px;letter-spacing:-1.75px;text-indent:-1.75px;"><i>解锁</i>(JP)</div><div class="c k ok" style="left:3044px;width:184px;letter-spacing:-1.75px;text-indent:-1.75px;"><i>解锁</i>(JP)</div><div class="c k ok" style="left:3230px;width:184px;letter-spacing:-1.75px;text-indent:-1.75px;"><i>解锁</i>(JP)</div><div class="c k ok" style="left:3416px;width:209px;letter-spacing:-1.6px;text-indent:-1.6px;"><i>解锁</i>(SG)</div></div>
<div class="r d" style="top:1334px"><div class="c " style="left:3px;width:107px;">22</div><div class="c n" style="left:112px;width:402px;"><i>新加坡</i> 01 - A</div><div class="c " style="left:516px;width:260px;">Shadowsocks</div><div class="c k" style="left:778px;width:166px;background:rgb(48,222,91);">257ms</div><div class="c k" style="left:946px;width:213px;background:rgb(150,144,46);">872ms</div><div class="c rk" style="left:1161px;width:248px;">LOW(0)</div><div class="c k or" style="left:1411px;width:302px;"><i>商宽</i>/<i>机房</i>IP</div><div class="c k no" style="left:1715px;width:232px;"><i>失败</i></div><div class="c k ok" style="left:1949px;width:238px;"><i>解锁</i></div><div class="c k ok" style="left:2189px;width:300px;letter-spacing:-1.05px;text-indent:-1.05px;"><i>解锁</i>(<i>港澳台地区</i>)</div><div class="c k ok" style="left:2491px;width:184px;letter-spacing:-1.6px;text-indent:-1.6px;"><i>解锁</i>(SG)</div><div class="c k no" style="left:2677px;width:179px;"><i>失败</i></div><div class="c k ok" style="left:2858px;width:184px;letter-spacing:-1.6px;text-indent:-1.6px;"><i>解锁</i>(SG)</div><div class="c k no" style="left:3044px;width:184px;"><i>失败</i></div><div class="c k ok" style="left:3230px;width:184px;letter-spacing:-1.6px;text-indent:-1.6px;"><i>解锁</i>(SG)</div><div class="c k ok" style="left:3416px;width:209px;letter-spacing:-1.6px;text-indent:-1.6px;"><i>解锁</i>(SG)</div></div>
<div class="r d" style="top:1392px"><div class="c " style="left:3px;width:107px;">23</div><div class="c n" style="left:112px;width:402px;"><i>新加坡</i> 02 - A</div><div class="c " style="left:516px;width:260px;">Shadowsocks</div><div class="c k" style="left:778px;width:166px;background:rgb(49,221,91);">264ms</div><div class="c k" style="left:946px;width:213px;background:rgb(177,123,34);">1034ms</div><div class="c rk" style="left:1161px;width:248px;">LOW(0)</div><div class="c k or" style="left:1411px;width:302px;"><i>商宽</i>/<i>机房</i>IP</div><div class="c k no" style="left:1715px;width:232px;"><i>失败</i></div><div class="c k ok" style="left:1949px;width:238px;"><i>解锁</i></div><div class="c k ok" style="left:2189px;width:300px;letter-spacing:-1.05px;text-indent:-1.05px;"><i>解锁</i>(<i>港澳台地区</i>)</div><div class="c k ok" style="left:2491px;width:184px;letter-spacing:-1.6px;text-indent:-1.6px;"><i>解锁</i>(SG)</div><div class="c k no" style="left:2677px;width:179px;"><i>失败</i></div><div class="c k ok" style="left:2858px;width:184px;letter-spacing:-1.6px;text-indent:-1.6px;"><i>解锁</i>(SG)</div><div class="c k no" style="left:3044px;width:184px;"><i>失败</i></div><div class="c k ok" style="left:3230px;width:184px;letter-spacing:-1.6px;text-indent:-1.6px;"><i>解锁</i>(SG)</div><div class="c k ok" style="left:3416px;width:209px;letter-spacing:-1.6px;text-indent:-1.6px;"><i>解锁</i>(SG)</div></div>
<div class="r d" style="top:1450px"><div class="c " style="left:3px;width:107px;">24</div><div class="c n" style="left:112px;width:402px;"><i>新加坡</i> 03 - A</div><div class="c " style="left:516px;width:260px;">Shadowsocks</div><div class="c k" style="left:778px;width:166px;background:rgb(62,212,85);">339ms</div><div class="c k" style="left:946px;width:213px;background:rgb(182,120,32);">1061ms</div><div class="c rk" style="left:1161px;width:248px;">LOW(0)</div><div class="c k or" style="left:1411px;width:302px;"><i>商宽</i>/<i>机房</i>IP</div><div class="c k no" style="left:1715px;width:232px;"><i>失败</i></div><div class="c k ok" style="left:1949px;width:238px;"><i>解锁</i></div><div class="c k ok" style="left:2189px;width:300px;letter-spacing:-1.05px;text-indent:-1.05px;"><i>解锁</i>(<i>港澳台地区</i>)</div><div class="c k ok" style="left:2491px;width:184px;letter-spacing:-1.6px;text-indent:-1.6px;"><i>解锁</i>(SG)</div><div class="c k no" style="left:2677px;width:179px;"><i>失败</i></div><div class="c k ok" style="left:2858px;width:184px;letter-spacing:-1.6px;text-indent:-1.6px;"><i>解锁</i>(SG)</div><div class="c k no" style="left:3044px;width:184px;"><i>失败</i></div><div class="c k ok" style="left:3230px;width:184px;letter-spacing:-1.6px;text-indent:-1.6px;"><i>解锁</i>(SG)</div><div class="c k ok" style="left:3416px;width:209px;letter-spacing:-1.6px;text-indent:-1.6px;"><i>解锁</i>(SG)</div></div>
<div class="r d" style="top:1508px"><div class="c " style="left:3px;width:107px;">25</div><div class="c n" style="left:112px;width:402px;"><i>新加坡</i> 04 - A</div><div class="c " style="left:516px;width:260px;">Shadowsocks</div><div class="c k" style="left:778px;width:166px;background:rgb(62,212,85);">339ms</div><div class="c k" style="left:946px;width:213px;background:rgb(180,121,33);">1049ms</div><div class="c rk" style="left:1161px;width:248px;">LOW(0)</div><div class="c k or" style="left:1411px;width:302px;"><i>商宽</i>/<i>机房</i>IP</div><div class="c k no" style="left:1715px;width:232px;"><i>失败</i></div><div class="c k ok" style="left:1949px;width:238px;"><i>解锁</i></div><div class="c k ok" style="left:2189px;width:300px;letter-spacing:-1.05px;text-indent:-1.05px;"><i>解锁</i>(<i>港澳台地区</i>)</div><div class="c k ok" style="left:2491px;width:184px;letter-spacing:-1.6px;text-indent:-1.6px;"><i>解锁</i>(SG)</div><div class="c k no" style="left:2677px;width:179px;"><i>失败</i></div><div class="c k ok" style="left:2858px;width:184px;letter-spacing:-1.6px;text-indent:-1.6px;"><i>解锁</i>(SG)</div><div class="c k no" style="left:3044px;width:184px;"><i>失败</i></div><div class="c k ok" style="left:3230px;width:184px;letter-spacing:-1.6px;text-indent:-1.6px;"><i>解锁</i>(SG)</div><div class="c k ok" style="left:3416px;width:209px;letter-spacing:-1.6px;text-indent:-1.6px;"><i>解锁</i>(SG)</div></div>
<div class="r d" style="top:1566px"><div class="c " style="left:3px;width:107px;">26</div><div class="c n" style="left:112px;width:402px;"><i>新加坡</i> 05 - A</div><div class="c " style="left:516px;width:260px;">Shadowsocks</div><div class="c k" style="left:778px;width:166px;background:rgb(15,247,105);">62ms</div><div class="c k" style="left:946px;width:213px;background:rgb(39,229,95);">202ms</div><div class="c rk" style="left:1161px;width:248px;letter-spacing:0.7px;text-indent:0.7px;">MEDIUM(37)</div><div class="c k or" style="left:1411px;width:302px;"><i>商宽</i>/<i>机房</i>IP</div><div class="c k no" style="left:1715px;width:232px;"><i>失败</i></div><div class="c k no" style="left:1949px;width:238px;"><i>失败</i></div><div class="c k no" style="left:2189px;width:300px;"><i>失败</i></div><div class="c k wt" style="left:2491px;width:184px;letter-spacing:-0.5px;text-indent:-0.5px;"><i>待解锁</i></div><div class="c k no" style="left:2677px;width:179px;"><i>失败</i></div><div class="c k no" style="left:2858px;width:184px;"><i>失败</i></div><div class="c k na" style="left:3044px;width:184px;letter-spacing:2.8px;text-indent:2.8px;">N/A</div><div class="c k ok" style="left:3230px;width:184px;letter-spacing:-1.6px;text-indent:-1.6px;"><i>解锁</i>(SG)</div><div class="c k or" style="left:3416px;width:209px;letter-spacing:-1.5px;text-indent:-1.5px;"><i>仅网页</i>(SG)</div></div>
<div class="r d" style="top:1624px"><div class="c " style="left:3px;width:107px;">27</div><div class="c n" style="left:112px;width:402px;"><i>新加坡</i> 06 - A</div><div class="c " style="left:516px;width:260px;">Shadowsocks</div><div class="c k" style="left:778px;width:166px;background:rgb(255,64,0);">-</div><div class="c k" style="left:946px;width:213px;background:rgb(255,64,0);">-</div><div class="c k na" style="left:1161px;width:248px;letter-spacing:2.8px;text-indent:2.8px;">N/A</div><div class="c " style="left:1411px;width:302px;">-</div><div class="c k na" style="left:1715px;width:232px;letter-spacing:2.8px;text-indent:2.8px;">N/A</div><div class="c k na" style="left:1949px;width:238px;letter-spacing:2.8px;text-indent:2.8px;">N/A</div><div class="c k na" style="left:2189px;width:300px;letter-spacing:2.8px;text-indent:2.8px;">N/A</div><div class="c k no" style="left:2491px;width:184px;"><i>失败</i></div><div class="c k na" style="left:2677px;width:179px;letter-spacing:2.8px;text-indent:2.8px;">N/A</div><div class="c k na" style="left:2858px;width:184px;letter-spacing:-0.7px;text-indent:-0.7px;"><i>查询失败</i></div><div class="c k na" style="left:3044px;width:184px;letter-spacing:2.8px;text-indent:2.8px;">N/A</div><div class="c k na" style="left:3230px;width:184px;letter-spacing:2.8px;text-indent:2.8px;">N/A</div><div class="c k na" style="left:3416px;width:209px;letter-spacing:2.8px;text-indent:2.8px;">N/A</div></div>
<div class="r d" style="top:1682px"><div class="c " style="left:3px;width:107px;">28</div><div class="c n" style="left:112px;width:402px;"><i>新加坡</i> 07 - A</div><div class="c " style="left:516px;width:260px;">Shadowsocks</div><div class="c k" style="left:778px;width:166px;background:rgb(15,247,106);">59ms</div><div class="c k" style="left:946px;width:213px;background:rgb(38,230,96);">196ms</div><div class="c rk" style="left:1161px;width:248px;">LOW(0)</div><div class="c k or" style="left:1411px;width:302px;"><i>商宽</i>/<i>机房</i>IP</div><div class="c k no" style="left:1715px;width:232px;"><i>失败</i></div><div class="c k ok" style="left:1949px;width:238px;"><i>解锁</i></div><div class="c k no" style="left:2189px;width:300px;"><i>失败</i></div><div class="c k ok" style="left:2491px;width:184px;letter-spacing:-0.7px;text-indent:-0.7px;"><i>解锁</i>(HK)</div><div class="c k no" style="left:2677px;width:179px;"><i>失败</i></div><div class="c k ok" style="left:2858px;width:184px;letter-spacing:-1.6px;text-indent:-1.6px;"><i>解锁</i>(SG)</div><div class="c k ok" style="left:3044px;width:184px;letter-spacing:-1.6px;text-indent:-1.6px;"><i>解锁</i>(SG)</div><div class="c k ok" style="left:3230px;width:184px;letter-spacing:-1.6px;text-indent:-1.6px;"><i>解锁</i>(SG)</div><div class="c k or" style="left:3416px;width:209px;letter-spacing:-1.6px;text-indent:-1.6px;"><i>仅</i>APP(US)</div></div>
<div class="r d" style="top:1740px"><div class="c " style="left:3px;width:107px;">29</div><div class="c n" style="left:112px;width:402px;"><i>新加坡</i> 08 - A</div><div class="c " style="left:516px;width:260px;">Shadowsocks</div><div class="c k" style="left:778px;width:166px;background:rgb(52,219,89);">284ms</div><div class="c k" style="left:946px;width:213px;background:rgb(74,202,80);">413ms</div><div class="c rk" style="left:1161px;width:248px;">LOW(0)</div><div class="c k or" style="left:1411px;width:302px;"><i>商宽</i>/<i>机房</i>IP</div><div class="c k no" style="left:1715px;width:232px;"><i>失败</i></div><div class="c k ok" style="left:1949px;width:238px;"><i>解锁</i></div><div class="c k no" style="left:2189px;width:300px;"><i>失败</i></div><div class="c k ok" style="left:2491px;width:184px;letter-spacing:-0.7px;text-indent:-0.7px;"><i>解锁</i>(HK)</div><div class="c k no" style="left:2677px;width:179px;"><i>失败</i></div><div class="c k ok" style="left:2858px;width:184px;letter-spacing:-1.6px;text-indent:-1.6px;"><i>解锁</i>(SG)</div><div class="c k ok" style="left:3044px;width:184px;letter-spacing:-1.6px;text-indent:-1.6px;"><i>解锁</i>(SG)</div><div class="c k ok" style="left:3230px;width:184px;letter-spacing:-1.6px;text-indent:-1.6px;"><i>解锁</i>(SG)</div><div class="c k ok" style="left:3416px;width:209px;letter-spacing:-1.3px;text-indent:-1.3px;"><i>解锁</i>(US)</div></div>
<div class="r d" style="top:1798px"><div class="c " style="left:3px;width:107px;">30</div><div class="c n" style="left:112px;width:402px;"><i>美国</i> 01 - A</div><div class="c " style="left:516px;width:260px;">Shadowsocks</div><div class="c k" style="left:778px;width:166px;background:rgb(37,230,96);">194ms</div><div class="c k" style="left:946px;width:213px;background:rgb(106,178,66);">603ms</div><div class="c rk" style="left:1161px;width:248px;">LOW(11)</div><div class="c k or" style="left:1411px;width:302px;"><i>商宽</i>/<i>机房</i>IP</div><div class="c k na" style="left:1715px;width:232px;letter-spacing:2.8px;text-indent:2.8px;">N/A</div><div class="c k na" style="left:1949px;width:238px;letter-spacing:2.8px;text-indent:2.8px;">N/A</div><div class="c k na" style="left:2189px;width:300px;letter-spacing:2.8px;text-indent:2.8px;">N/A</div><div class="c k ok" style="left:2491px;width:184px;letter-spacing:-1.3px;text-indent:-1.3px;"><i>解锁</i>(US)</div><div class="c k ok" style="left:2677px;width:179px;"><i>解锁</i></div><div class="c k na" style="left:2858px;width:184px;letter-spacing:-0.7px;text-indent:-0.7px;"><i>查询失败</i></div><div class="c k na" style="left:3044px;width:184px;letter-spacing:2.8px;text-indent:2.8px;">N/A</div><div class="c k ok" style="left:3230px;width:184px;letter-spacing:-1.3px;text-indent:-1.3px;"><i>解锁</i>(US)</div><div class="c k ok" style="left:3416px;width:209px;letter-spacing:-1.3px;text-indent:-1.3px;"><i>解锁</i>(US)</div></div>
<div class="r d" style="top:1856px"><div class="c " style="left:3px;width:107px;">31</div><div class="c n" style="left:112px;width:402px;"><i>美国</i> 02 - A</div><div class="c " style="left:516px;width:260px;">Shadowsocks</div><div class="c k" style="left:778px;width:166px;background:rgb(255,64,0);">-</div><div class="c k" style="left:946px;width:213px;background:rgb(255,64,0);">-</div><div class="c k na" style="left:1161px;width:248px;letter-spacing:2.8px;text-indent:2.8px;">N/A</div><div class="c " style="left:1411px;width:302px;">-</div><div class="c k na" style="left:1715px;width:232px;letter-spacing:2.8px;text-indent:2.8px;">N/A</div><div class="c k na" style="left:1949px;width:238px;letter-spacing:2.8px;text-indent:2.8px;">N/A</div><div class="c k na" style="left:2189px;width:300px;letter-spacing:2.8px;text-indent:2.8px;">N/A</div><div class="c k no" style="left:2491px;width:184px;"><i>失败</i></div><div class="c k na" style="left:2677px;width:179px;letter-spacing:2.8px;text-indent:2.8px;">N/A</div><div class="c k na" style="left:2858px;width:184px;letter-spacing:-0.7px;text-indent:-0.7px;"><i>查询失败</i></div><div class="c k na" style="left:3044px;width:184px;letter-spacing:2.8px;text-indent:2.8px;">N/A</div><div class="c k na" style="left:3230px;width:184px;letter-spacing:2.8px;text-indent:2.8px;">N/A</div><div class="c k na" style="left:3416px;width:209px;letter-spacing:2.8px;text-indent:2.8px;">N/A</div></div>
<div class="r d" style="top:1914px"><div class="c " style="left:3px;width:107px;">32</div><div class="c n" style="left:112px;width:402px;"><i>美国</i> 04 - A</div><div class="c " style="left:516px;width:260px;">Shadowsocks</div><div class="c k" style="left:778px;width:166px;background:rgb(33,234,98);">166ms</div><div class="c k" style="left:946px;width:213px;background:rgb(94,187,71);">531ms</div><div class="c rk" style="left:1161px;width:248px;letter-spacing:0.7px;text-indent:0.7px;">MEDIUM(28)</div><div class="c k or" style="left:1411px;width:302px;"><i>商宽</i>/<i>机房</i>IP</div><div class="c k na" style="left:1715px;width:232px;letter-spacing:2.8px;text-indent:2.8px;">N/A</div><div class="c k na" style="left:1949px;width:238px;letter-spacing:2.8px;text-indent:2.8px;">N/A</div><div class="c k na" style="left:2189px;width:300px;letter-spacing:2.8px;text-indent:2.8px;">N/A</div><div class="c k ok" style="left:2491px;width:184px;letter-spacing:-1.3px;text-indent:-1.3px;"><i>解锁</i>(US)</div><div class="c k ok" style="left:2677px;width:179px;"><i>解锁</i></div><div class="c k na" style="left:2858px;width:184px;letter-spacing:-0.7px;text-indent:-0.7px;"><i>查询失败</i></div><div class="c k na" style="left:3044px;width:184px;letter-spacing:2.8px;text-indent:2.8px;">N/A</div><div class="c k na" style="left:3230px;width:184px;letter-spacing:2.8px;text-indent:2.8px;">N/A</div><div class="c k or" style="left:3416px;width:209px;letter-spacing:-1.3px;text-indent:-1.3px;"><i>仅网页</i>(US)</div></div>
<div class="r d" style="top:1972px"><div class="c " style="left:3px;width:107px;">33</div><div class="c n" style="left:112px;width:402px;"><i>美国</i> 05 - A</div><div class="c " style="left:516px;width:260px;">Shadowsocks</div><div class="c k" style="left:778px;width:166px;background:rgb(33,234,98);">166ms</div><div class="c k" style="left:946px;width:213px;background:rgb(92,188,72);">523ms</div><div class="c rk" style="left:1161px;width:248px;letter-spacing:0.7px;text-indent:0.7px;">MEDIUM(37)</div><div class="c k or" style="left:1411px;width:302px;"><i>商宽</i>/<i>机房</i>IP</div><div class="c k na" style="left:1715px;width:232px;letter-spacing:2.8px;text-indent:2.8px;">N/A</div><div class="c k na" style="left:1949px;width:238px;letter-spacing:2.8px;text-indent:2.8px;">N/A</div><div class="c k na" style="left:2189px;width:300px;letter-spacing:2.8px;text-indent:2.8px;">N/A</div><div class="c k ok" style="left:2491px;width:184px;letter-spacing:-1.3px;text-indent:-1.3px;"><i>解锁</i>(US)</div><div class="c k ok" style="left:2677px;width:179px;"><i>解锁</i></div><div class="c k na" style="left:2858px;width:184px;letter-spacing:-0.7px;text-indent:-0.7px;"><i>查询失败</i></div><div class="c k na" style="left:3044px;width:184px;letter-spacing:2.8px;text-indent:2.8px;">N/A</div><div class="c k ok" style="left:3230px;width:184px;letter-spacing:-1.3px;text-indent:-1.3px;"><i>解锁</i>(US)</div><div class="c k or" style="left:3416px;width:209px;letter-spacing:-1.3px;text-indent:-1.3px;"><i>仅网页</i>(US)</div></div>
<div class="r d" style="top:2030px"><div class="c " style="left:3px;width:107px;">34</div><div class="c n" style="left:112px;width:402px;"><i>美国</i> 06 - A</div><div class="c " style="left:516px;width:260px;">Shadowsocks</div><div class="c k" style="left:778px;width:166px;background:rgb(255,64,0);">-</div><div class="c k" style="left:946px;width:213px;background:rgb(255,64,0);">-</div><div class="c k na" style="left:1161px;width:248px;letter-spacing:2.8px;text-indent:2.8px;">N/A</div><div class="c " style="left:1411px;width:302px;">-</div><div class="c k na" style="left:1715px;width:232px;letter-spacing:2.8px;text-indent:2.8px;">N/A</div><div class="c k na" style="left:1949px;width:238px;letter-spacing:2.8px;text-indent:2.8px;">N/A</div><div class="c k na" style="left:2189px;width:300px;letter-spacing:2.8px;text-indent:2.8px;">N/A</div><div class="c k no" style="left:2491px;width:184px;"><i>失败</i></div><div class="c k na" style="left:2677px;width:179px;letter-spacing:2.8px;text-indent:2.8px;">N/A</div><div class="c k na" style="left:2858px;width:184px;letter-spacing:-0.7px;text-indent:-0.7px;"><i>查询失败</i></div><div class="c k na" style="left:3044px;width:184px;letter-spacing:2.8px;text-indent:2.8px;">N/A</div><div class="c k na" style="left:3230px;width:184px;letter-spacing:2.8px;text-indent:2.8px;">N/A</div><div class="c k na" style="left:3416px;width:209px;letter-spacing:2.8px;text-indent:2.8px;">N/A</div></div>
<div class="r d" style="top:2088px"><div class="c " style="left:3px;width:107px;">35</div><div class="c n" style="left:112px;width:402px;"><i>美国</i> 07 - A</div><div class="c " style="left:516px;width:260px;">Shadowsocks</div><div class="c k" style="left:778px;width:166px;background:rgb(39,229,95);">205ms</div><div class="c k" style="left:946px;width:213px;background:rgb(118,169,60);">679ms</div><div class="c rk" style="left:1161px;width:248px;letter-spacing:0.7px;text-indent:0.7px;">MEDIUM(22)</div><div class="c k or" style="left:1411px;width:302px;"><i>商宽</i>/<i>机房</i>IP</div><div class="c k na" style="left:1715px;width:232px;letter-spacing:2.8px;text-indent:2.8px;">N/A</div><div class="c k na" style="left:1949px;width:238px;letter-spacing:2.8px;text-indent:2.8px;">N/A</div><div class="c k na" style="left:2189px;width:300px;letter-spacing:2.8px;text-indent:2.8px;">N/A</div><div class="c k ok" style="left:2491px;width:184px;letter-spacing:-1.3px;text-indent:-1.3px;"><i>解锁</i>(US)</div><div class="c k ok" style="left:2677px;width:179px;"><i>解锁</i></div><div class="c k na" style="left:2858px;width:184px;letter-spacing:-0.7px;text-indent:-0.7px;"><i>查询失败</i></div><div class="c k na" style="left:3044px;width:184px;letter-spacing:2.8px;text-indent:2.8px;">N/A</div><div class="c k ok" style="left:3230px;width:184px;letter-spacing:-1.3px;text-indent:-1.3px;"><i>解锁</i>(US)</div><div class="c k ok" style="left:3416px;width:209px;letter-spacing:-1.3px;text-indent:-1.3px;"><i>解锁</i>(US)</div></div>
<div class="r d" style="top:2146px"><div class="c " style="left:3px;width:107px;">36</div><div class="c n" style="left:112px;width:402px;"><i>法国</i> 01 - A</div><div class="c " style="left:516px;width:260px;">Shadowsocks</div><div class="c k" style="left:778px;width:166px;background:rgb(76,201,79);">425ms</div><div class="c k" style="left:946px;width:213px;background:rgb(147,146,47);">853ms</div><div class="c rk" style="left:1161px;width:248px;">LOW(10)</div><div class="c k or" style="left:1411px;width:302px;"><i>商宽</i>/<i>机房</i>IP|VPN</div><div class="c k no" style="left:1715px;width:232px;"><i>失败</i></div><div class="c k no" style="left:1949px;width:238px;"><i>失败</i></div><div class="c k no" style="left:2189px;width:300px;"><i>失败</i></div><div class="c k wt" style="left:2491px;width:184px;letter-spacing:-0.5px;text-indent:-0.5px;"><i>待解锁</i></div><div class="c k ok" style="left:2677px;width:179px;"><i>解锁</i></div><div class="c k no" style="left:2858px;width:184px;"><i>失败</i></div><div class="c k na" style="left:3044px;width:184px;letter-spacing:2.8px;text-indent:2.8px;">N/A</div><div class="c k ok" style="left:3230px;width:184px;letter-spacing:-1.5px;text-indent:-1.5px;"><i>解锁</i>(FR)</div><div class="c k or" style="left:3416px;width:209px;letter-spacing:-1.5px;text-indent:-1.5px;"><i>仅网页</i>(FR)</div></div>
<div class="r d" style="top:2204px"><div class="c " style="left:3px;width:107px;">37</div><div class="c n" style="left:112px;width:402px;"><i>法国</i> 02 - A</div><div class="c " style="left:516px;width:260px;">Shadowsocks</div><div class="c k" style="left:778px;width:166px;background:rgb(37,231,96);">192ms</div><div class="c k" style="left:946px;width:213px;background:rgb(107,177,65);">612ms</div><div class="c rk" style="left:1161px;width:248px;letter-spacing:0.7px;text-indent:0.7px;">MEDIUM(32)</div><div class="c k or" style="left:1411px;width:302px;"><i>商宽</i>/<i>机房</i>IP</div><div class="c k no" style="left:1715px;width:232px;"><i>失败</i></div><div class="c k no" style="left:1949px;width:238px;"><i>失败</i></div><div class="c k no" style="left:2189px;width:300px;"><i>失败</i></div><div class="c k ok" style="left:2491px;width:184px;letter-spacing:-1.5px;text-indent:-1.5px;"><i>解锁</i>(FR)</div><div class="c k ok" style="left:2677px;width:179px;"><i>解锁</i></div><div class="c k no" style="left:2858px;width:184px;"><i>失败</i></div><div class="c k no" style="left:3044px;width:184px;"><i>失败</i></div><div class="c k ok" style="left:3230px;width:184px;letter-spacing:-1.5px;text-indent:-1.5px;"><i>解锁</i>(FR)</div><div class="c k or" style="left:3416px;width:209px;letter-spacing:-1.5px;text-indent:-1.5px;"><i>仅网页</i>(FR)</div></div>
<div class="r d" style="top:2262px"><div class="c " style="left:3px;width:107px;">38</div><div class="c n" style="left:112px;width:402px;"><i>意大利</i> 01 - A</div><div class="c " style="left:516px;width:260px;">Shadowsocks</div><div class="c k" style="left:778px;width:166px;background:rgb(117,169,61);">672ms</div><div class="c k" style="left:946px;width:213px;background:rgb(255,64,0);">1982ms</div><div class="c rk" style="left:1161px;width:248px;letter-spacing:0.7px;text-indent:0.7px;">MEDIUM(32)</div><div class="c k or" style="left:1411px;width:302px;"><i>商宽</i>/<i>机房</i>IP</div><div class="c k no" style="left:1715px;width:232px;"><i>失败</i></div><div class="c k no" style="left:1949px;width:238px;"><i>失败</i></div><div class="c k no" style="left:2189px;width:300px;"><i>失败</i></div><div class="c k ok" style="left:2491px;width:184px;letter-spacing:-0.5px;text-indent:-0.5px;"><i>解锁</i>(IT)</div><div class="c k no" style="left:2677px;width:179px;"><i>失败</i></div><div class="c k no" style="left:2858px;width:184px;"><i>失败</i></div><div class="c k no" style="left:3044px;width:184px;"><i>失败</i></div><div class="c k ok" style="left:3230px;width:184px;letter-spacing:-0.5px;text-indent:-0.5px;"><i>解锁</i>(IT)</div><div class="c k or" style="left:3416px;width:209px;letter-spacing:-0.6px;text-indent:-0.6px;"><i>仅网页</i>(IT)</div></div>
<div class="r d" style="top:2320px"><div class="c " style="left:3px;width:107px;">39</div><div class="c n" style="left:112px;width:402px;"><i>英国</i> 01 - A</div><div class="c " style="left:516px;width:260px;">Shadowsocks</div><div class="c k" style="left:778px;width:166px;background:rgb(35,232,97);">181ms</div><div class="c k" style="left:946px;width:213px;background:rgb(100,183,68);">568ms</div><div class="c rk" style="left:1161px;width:248px;">HIGH(78)</div><div class="c k or" style="left:1411px;width:302px;"><i>商宽</i>/<i>机房</i>IP</div><div class="c k no" style="left:1715px;width:232px;"><i>失败</i></div><div class="c k no" style="left:1949px;width:238px;"><i>失败</i></div><div class="c k no" style="left:2189px;width:300px;"><i>失败</i></div><div class="c k wt" style="left:2491px;width:184px;letter-spacing:-0.5px;text-indent:-0.5px;"><i>待解锁</i></div><div class="c k no" style="left:2677px;width:179px;"><i>失败</i></div><div class="c k no" style="left:2858px;width:184px;"><i>失败</i></div><div class="c k na" style="left:3044px;width:184px;letter-spacing:2.8px;text-indent:2.8px;">N/A</div><div class="c k ok" style="left:3230px;width:184px;letter-spacing:-1.3px;text-indent:-1.3px;"><i>解锁</i>(GB)</div><div class="c k or" style="left:3416px;width:209px;letter-spacing:-1.1px;text-indent:-1.1px;"><i>仅网页</i>(GB)</div></div>
<div class="r d" style="top:2378px"><div class="c " style="left:3px;width:107px;">40</div><div class="c n" style="left:112px;width:402px;"><i>英国</i> 02 - A</div><div class="c " style="left:516px;width:260px;">Shadowsocks</div><div class="c k" style="left:778px;width:166px;background:rgb(36,231,96);">185ms</div><div class="c k" style="left:946px;width:213px;background:rgb(99,183,69);">565ms</div><div class="c rk" style="left:1161px;width:248px;letter-spacing:0.7px;text-indent:0.7px;">MEDIUM(37)</div><div class="c k or" style="left:1411px;width:302px;"><i>商宽</i>/<i>机房</i>IP|VPN</div><div class="c k no" style="left:1715px;width:232px;"><i>失败</i></div><div class="c k no" style="left:1949px;width:238px;"><i>失败</i></div><div class="c k no" style="left:2189px;width:300px;"><i>失败</i></div><div class="c k wt" style="left:2491px;width:184px;letter-spacing:-0.5px;text-indent:-0.5px;"><i>待解锁</i></div><div class="c k no" style="left:2677px;width:179px;"><i>失败</i></div><div class="c k no" style="left:2858px;width:184px;"><i>失败</i></div><div class="c k na" style="left:3044px;width:184px;letter-spacing:2.8px;text-indent:2.8px;">N/A</div><div class="c k ok" style="left:3230px;width:184px;letter-spacing:-1.3px;text-indent:-1.3px;"><i>解锁</i>(GB)</div><div class="c k or" style="left:3416px;width:209px;letter-spacing:-1.1px;text-indent:-1.1px;"><i>仅网页</i>(GB)</div></div>
<div class="r d" style="top:2436px"><div class="c " style="left:3px;width:107px;">41</div><div class="c n" style="left:112px;width:402px;"><i>德国</i> 01 - A</div><div class="c " style="left:516px;width:260px;">Shadowsocks</div><div class="c k" style="left:778px;width:166px;background:rgb(38,230,95);">200ms</div><div class="c k" style="left:946px;width:213px;background:rgb(110,175,64);">628ms</div><div class="c rk" style="left:1161px;width:248px;letter-spacing:0.7px;text-indent:0.7px;">MEDIUM(28)</div><div class="c k or" style="left:1411px;width:302px;"><i>商宽</i>/<i>机房</i>IP</div><div class="c k na" style="left:1715px;width:232px;letter-spacing:2.8px;text-indent:2.8px;">N/A</div><div class="c k no" style="left:1949px;width:238px;"><i>失败</i></div><div class="c k na" style="left:2189px;width:300px;letter-spacing:2.8px;text-indent:2.8px;">N/A</div><div class="c k ok" style="left:2491px;width:184px;letter-spacing:-1.2px;text-indent:-1.2px;"><i>解锁</i>(DE)</div><div class="c k no" style="left:2677px;width:179px;"><i>失败</i></div><div class="c k na" style="left:2858px;width:184px;letter-spacing:-0.7px;text-indent:-0.7px;"><i>查询失败</i></div><div class="c k na" style="left:3044px;width:184px;letter-spacing:2.8px;text-indent:2.8px;">N/A</div><div class="c k ok" style="left:3230px;width:184px;letter-spacing:-1.2px;text-indent:-1.2px;"><i>解锁</i>(DE)</div><div class="c k or" style="left:3416px;width:209px;letter-spacing:-1.05px;text-indent:-1.05px;"><i>仅网页</i>(DE)</div></div>
<div class="r d" style="top:2494px"><div class="c " style="left:3px;width:107px;">42</div><div class="c n" style="left:112px;width:402px;"><i>德国</i> 02 - A</div><div class="c " style="left:516px;width:260px;">Shadowsocks</div><div class="c k" style="left:778px;width:166px;background:rgb(255,64,0);">-</div><div class="c k" style="left:946px;width:213px;background:rgb(255,64,0);">-</div><div class="c rk" style="left:1161px;width:248px;letter-spacing:0.7px;text-indent:0.7px;">MEDIUM(37)</div><div class="c k or" style="left:1411px;width:302px;"><i>商宽</i>/<i>机房</i>IP</div><div class="c k na" style="left:1715px;width:232px;letter-spacing:2.8px;text-indent:2.8px;">N/A</div><div class="c k no" style="left:1949px;width:238px;"><i>失败</i></div><div class="c k na" style="left:2189px;width:300px;letter-spacing:2.8px;text-indent:2.8px;">N/A</div><div class="c k wt" style="left:2491px;width:184px;letter-spacing:-0.5px;text-indent:-0.5px;"><i>待解锁</i></div><div class="c k no" style="left:2677px;width:179px;"><i>失败</i></div><div class="c k na" style="left:2858px;width:184px;letter-spacing:-0.7px;text-indent:-0.7px;"><i>查询失败</i></div><div class="c k na" style="left:3044px;width:184px;letter-spacing:2.8px;text-indent:2.8px;">N/A</div><div class="c k ok" style="left:3230px;width:184px;letter-spacing:-1.2px;text-indent:-1.2px;"><i>解锁</i>(DE)</div><div class="c k or" style="left:3416px;width:209px;letter-spacing:-1.05px;text-indent:-1.05px;"><i>仅网页</i>(DE)</div></div>
<div class="r" style="top:2552px"><div class="sg" style="left:3px;width:107px"></div><div class="sg" style="left:112px;width:402px"></div><div class="sg" style="left:516px;width:260px"></div><div class="sg" style="left:778px;width:166px"></div><div class="sg" style="left:946px;width:213px"></div><div class="sg" style="left:1161px;width:248px"></div><div class="sg" style="left:1411px;width:302px"></div><div class="sg" style="left:1715px;width:232px"></div><div class="sg" style="left:1949px;width:238px"></div><div class="sg" style="left:2189px;width:300px"></div><div class="sg" style="left:2491px;width:184px"></div><div class="sg" style="left:2677px;width:179px"></div><div class="sg" style="left:2858px;width:184px"></div><div class="sg" style="left:3044px;width:184px"></div><div class="sg" style="left:3230px;width:184px"></div><div class="sg" style="left:3416px;width:209px"></div><svg id="cb" viewBox="0 0 28 28"><rect width="28" height="28" rx="3" fill="#6fb251"/><path d="M5 16.5 L11.5 23 L23 6.5" fill="none" stroke="#fff" stroke-width="3.6" stroke-linecap="round" stroke-linejoin="round"/></svg><div class="c f" style="padding-left:71px;letter-spacing:-1.05px;word-spacing:-1px"><i>已核实</i> TLS <i>证书。</i>TLS RTT <i>为单次数据交换延迟，</i> HTTPS Ping <i>为单次请求体感延迟。</i></div></div>
<div class="r" style="top:2610px"><div class="ln"></div><div class="c f" style="letter-spacing:.1px"><i>主端</i>=4.3.3 (697) <i>喵速</i>=4.3.6-Meta (<i>中山电信</i>@1Gbps), <i>概要</i>=42/42 <i>排序</i>=<i>订阅原序</i> <i>过滤器</i>=</div></div>
<div class="r" style="top:2668px"><div class="ln"></div><div class="c f" style="letter-spacing:-.55px"><i>测试时间：</i>2024-07-09 22:27:24 (CST)<i>，本测试为试验性结果，仅供参考。</i></div></div>
<div class="wm" style="top:107.5px">MiaoKo+</div>
<div class="wm" style="top:418.1px">MiaoKo+</div>
<div class="wm" style="top:728.6px">MiaoKo+</div>
<div class="wm" style="top:1039.2px">MiaoKo+</div>
<div class="wm" style="top:1349.7px">MiaoKo+</div>
<div class="wm" style="top:1660.3px">MiaoKo+</div>
<div class="wm" style="top:1970.9px">MiaoKo+</div>
<div class="wm" style="top:2281.4px">MiaoKo+</div>
<div class="wm" style="top:2592.0px">MiaoKo+</div>
<div id="bd"></div>
</div></body></html>
